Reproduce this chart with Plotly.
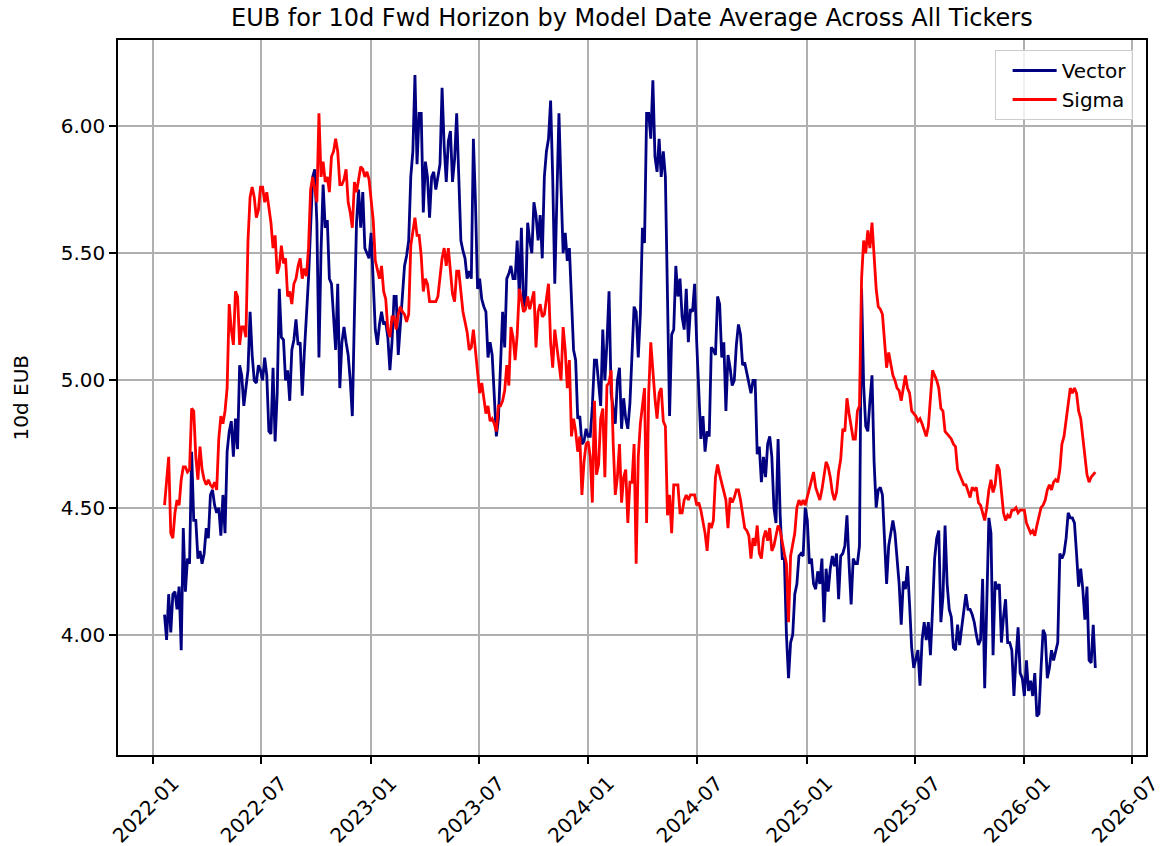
import pandas as pd
import plotly.graph_objects as go

# Half-weekly samples (every 3.5 days) starting 2022-01-20
start_date = "2022-01-20"
step = "84h"

vector = [
    4.08, 3.98, 4.16, 4.01, 4.16, 4.17, 4.10, 4.19, 3.94, 4.42,
    4.17, 4.30, 4.28, 4.72, 4.45, 4.45, 4.30, 4.33, 4.28, 4.32,
    4.42, 4.38, 4.55, 4.57, 4.51, 4.48, 4.50, 4.39, 4.55, 4.40,
    4.72, 4.80, 4.84, 4.70, 4.85, 4.73, 5.06, 5.02, 4.90, 4.97,
    5.04, 5.27, 5.10, 5.00, 4.99, 5.06, 5.04, 5.00, 5.09, 5.02,
    4.80, 4.79, 5.05, 4.76, 4.95, 5.36, 5.17, 5.16, 5.00, 5.04,
    4.92, 5.12, 5.16, 5.24, 5.14, 5.15, 4.94, 5.11, 5.25, 5.40,
    5.60, 5.80, 5.83, 5.62, 5.09, 5.51, 5.77, 5.60, 5.63, 5.40,
    5.38, 5.25, 5.12, 5.38, 4.97, 5.15, 5.21, 5.15, 5.10, 5.00,
    4.86, 5.26, 5.62, 5.75, 5.60, 5.74, 5.52, 5.50, 5.48, 5.58,
    5.38, 5.20, 5.14, 5.22, 5.27, 5.22, 5.23, 5.17, 5.04, 5.15,
    5.33, 5.33, 5.10, 5.22, 5.34, 5.45, 5.49, 5.55, 5.80, 5.90,
    6.20, 5.85, 6.05, 6.05, 5.66, 5.86, 5.80, 5.64, 5.80, 5.82,
    5.75, 5.80, 5.85, 6.15, 5.92, 5.78, 5.94, 5.98, 5.78, 5.87,
    6.05, 5.80, 5.55, 5.51, 5.48, 5.40, 5.43, 5.40, 5.95, 5.70,
    5.36, 5.40, 5.32, 5.29, 5.27, 5.09, 5.15, 5.10, 4.95, 4.78,
    4.85, 5.04, 5.27, 5.13, 5.40, 5.42, 5.45, 5.40, 5.40, 5.55,
    5.33, 5.60, 5.29, 5.30, 5.62, 5.55, 5.50, 5.70, 5.65, 5.55,
    5.65, 5.48, 5.80, 5.90, 5.95, 6.10, 5.80, 5.38, 5.68, 6.05,
    5.76, 5.50, 5.58, 5.47, 5.52, 5.29, 5.12, 5.08, 4.85, 4.86,
    4.75, 4.76, 4.81, 4.78, 4.78, 4.90, 5.08, 5.08, 5.00, 4.90,
    5.20, 5.00, 5.15, 5.35, 4.95, 4.88, 4.83, 5.00, 5.05, 4.81,
    4.93, 4.85, 4.81, 4.91, 5.10, 5.29, 5.27, 5.09, 5.26, 5.60,
    5.54, 6.05, 6.05, 5.95, 6.18, 5.88, 5.82, 5.95, 5.80, 5.90,
    5.80, 5.33, 4.86, 5.18, 5.20, 5.45, 5.33, 5.40, 5.25, 5.20,
    5.36, 5.15, 5.28, 5.27, 5.38, 5.15, 4.95, 4.77, 4.86, 4.72,
    4.80, 4.78, 5.13, 5.12, 5.10, 5.33, 5.30, 5.09, 5.15, 4.88,
    5.10, 5.05, 4.98, 5.00, 5.14, 5.22, 5.18, 5.06, 5.07, 5.03,
    5.00, 4.95, 5.00, 5.00, 4.71, 4.74, 4.60, 4.70, 4.62, 4.75,
    4.78, 4.70, 4.50, 4.44, 4.77, 4.47, 4.30, 4.30, 4.00, 3.83,
    3.97, 4.00, 4.16, 4.20, 4.31, 4.32, 4.31, 4.50, 4.45, 4.28,
    4.30, 4.20, 4.18, 4.25, 4.20, 4.30, 4.05, 4.26, 4.17, 4.26,
    4.31, 4.27, 4.32, 4.14, 4.31, 4.32, 4.35, 4.47, 4.28, 4.12,
    4.30, 4.28, 4.28, 4.35, 5.36, 4.98, 4.82, 4.80, 4.92, 5.02,
    4.68, 4.50, 4.57, 4.58, 4.55, 4.35, 4.20, 4.35, 4.40, 4.45,
    4.40, 4.30, 4.20, 4.04, 4.21, 4.18, 4.27, 4.12, 3.95, 3.87,
    3.90, 3.94, 3.80, 3.98, 4.05, 3.98, 4.05, 3.92, 4.10, 4.30,
    4.38, 4.41, 4.05, 4.15, 4.43, 4.20, 4.10, 4.07, 3.95, 3.94,
    4.04, 3.96, 4.03, 4.09, 4.16, 4.10, 4.10, 4.08, 4.05, 4.00,
    3.96, 3.98, 4.22, 3.79, 4.15, 4.46, 4.40, 3.92, 4.21, 4.18,
    4.20, 3.97, 4.07, 4.14, 3.97, 3.97, 3.94, 3.76, 3.91, 4.03,
    3.85, 3.83, 3.76, 3.90, 3.78, 3.82, 3.76, 3.85, 3.68, 3.69,
    3.87, 4.02, 4.00, 3.83, 3.87, 3.94, 3.90, 3.94, 3.97, 4.32,
    4.30, 4.32, 4.38, 4.48, 4.46, 4.46, 4.44, 4.32, 4.19, 4.26,
    4.18, 4.06, 4.19, 3.90, 3.89, 4.04, 3.87,
]

sigma = [
    4.51, 4.60, 4.70, 4.40, 4.38, 4.48, 4.53, 4.51, 4.61, 4.66,
    4.66, 4.64, 4.65, 4.89, 4.88, 4.70, 4.61, 4.74, 4.65, 4.61,
    4.59, 4.61, 4.59, 4.58, 4.60, 4.57, 4.77, 4.86, 4.83, 4.88,
    4.97, 5.30, 5.20, 5.14, 5.35, 5.33, 5.14, 5.21, 5.21, 5.17,
    5.55, 5.72, 5.76, 5.72, 5.64, 5.67, 5.76, 5.76, 5.70, 5.74,
    5.68, 5.62, 5.52, 5.57, 5.42, 5.45, 5.53, 5.46, 5.48, 5.33,
    5.35, 5.30, 5.38, 5.40, 5.45, 5.48, 5.40, 5.44, 5.41, 5.52,
    5.75, 5.80, 5.75, 5.70, 6.05, 5.80, 5.86, 5.78, 5.80, 5.74,
    5.88, 5.90, 5.95, 5.90, 5.77, 5.77, 5.79, 5.83, 5.70, 5.66,
    5.60, 5.78, 5.74, 5.79, 5.84, 5.83, 5.80, 5.82, 5.79, 5.71,
    5.63, 5.47, 5.44, 5.40, 5.45, 5.35, 5.32, 5.20, 5.17, 5.25,
    5.25, 5.20, 5.26, 5.29, 5.27, 5.26, 5.23, 5.26, 5.53, 5.58,
    5.64, 5.57, 5.57, 5.49, 5.35, 5.40, 5.38, 5.31, 5.31, 5.31,
    5.31, 5.33, 5.42, 5.48, 5.52, 5.45, 5.52, 5.44, 5.34, 5.31,
    5.43, 5.43, 5.34, 5.27, 5.23, 5.19, 5.12, 5.13, 5.20, 5.12,
    5.02, 4.95, 4.99, 4.92, 4.87, 4.90, 4.84, 4.85, 4.83, 4.80,
    4.90, 4.90, 4.92, 4.96, 5.06, 4.98, 5.21, 5.17, 5.08, 5.18,
    5.36, 5.32, 5.27, 5.28, 5.33, 5.28, 5.32, 5.35, 5.13, 5.27,
    5.30, 5.25, 5.26, 5.32, 5.38, 5.15, 5.05, 5.20, 5.13, 5.06,
    5.00, 5.21, 5.12, 4.97, 5.08, 4.78, 4.85, 4.80, 4.72, 4.78,
    4.55, 4.68, 4.75, 4.76, 4.70, 4.52, 4.92, 4.63, 4.67, 4.85,
    4.89, 4.62, 4.98, 4.99, 5.04, 4.75, 4.55, 4.62, 4.75, 4.52,
    4.62, 4.65, 4.44, 4.60, 4.60, 4.75, 4.28, 4.70, 4.83, 4.90,
    4.97, 4.44, 4.95, 5.15, 5.02, 4.93, 4.85, 4.95, 4.97, 4.84,
    4.82, 4.47, 4.55, 4.40, 4.59, 4.59, 4.59, 4.48, 4.48, 4.53,
    4.55, 4.53, 4.55, 4.55, 4.55, 4.51, 4.52, 4.49, 4.44, 4.40,
    4.33, 4.44, 4.42, 4.45, 4.62, 4.67, 4.63, 4.60, 4.56, 4.53,
    4.42, 4.54, 4.52, 4.54, 4.57, 4.57, 4.53, 4.47, 4.42, 4.41,
    4.39, 4.30, 4.38, 4.35, 4.43, 4.32, 4.30, 4.38, 4.41, 4.37,
    4.42, 4.33, 4.35, 4.39, 4.43, 4.41, 4.36, 4.32, 4.28, 4.05,
    4.31, 4.35, 4.40, 4.50, 4.53, 4.51, 4.53, 4.51, 4.54, 4.57,
    4.60, 4.64, 4.58, 4.55, 4.53, 4.57, 4.62, 4.68, 4.66, 4.62,
    4.56, 4.53, 4.56, 4.64, 4.69, 4.81, 4.80, 4.93, 4.87, 4.81,
    4.77, 4.77, 4.88, 4.90, 5.40, 5.55, 5.50, 5.59, 5.52, 5.62,
    5.50, 5.36, 5.29, 5.28, 5.26, 5.15, 5.05, 5.11, 5.06, 5.02,
    5.00, 4.97, 4.96, 4.92, 4.97, 5.02, 4.97, 4.95, 4.88, 4.87,
    4.86, 4.84, 4.85, 4.83, 4.80, 4.78, 4.82, 4.92, 5.04, 5.02,
    5.00, 4.97, 4.89, 4.88, 4.80, 4.79, 4.78, 4.77, 4.75, 4.74,
    4.65, 4.63, 4.61, 4.59, 4.59, 4.56, 4.54, 4.58, 4.57, 4.58,
    4.52, 4.51, 4.48, 4.45, 4.50, 4.57, 4.61, 4.56, 4.59, 4.67,
    4.65, 4.55, 4.48, 4.45, 4.47, 4.46, 4.49, 4.49, 4.50, 4.48,
    4.49, 4.49, 4.49, 4.44, 4.42, 4.40, 4.41, 4.39, 4.43, 4.46,
    4.50, 4.51, 4.53, 4.57, 4.59, 4.57, 4.60, 4.61, 4.60, 4.65,
    4.75, 4.78, 4.85, 4.90, 4.97, 4.95, 4.97, 4.95, 4.88, 4.85,
    4.78, 4.72, 4.63, 4.60, 4.62, 4.63, 4.64,
]

vector_dates = pd.date_range(start_date, periods=len(vector), freq=step)
sigma_dates = pd.date_range(start_date, periods=len(sigma), freq=step)

x_tick_labels = ["2022-01", "2022-07", "2023-01", "2023-07", "2024-01",
                 "2024-07", "2025-01", "2025-07", "2026-01", "2026-07"]
y_ticks = [4.0, 4.5, 5.0, 5.5, 6.0]

FONT = "DejaVu Sans"

fig = go.Figure()
fig.add_trace(go.Scatter(x=vector_dates, y=vector, mode="lines", name="Vector",
                         line=dict(color="#000080", width=2.8)))
fig.add_trace(go.Scatter(x=sigma_dates, y=sigma, mode="lines", name="Sigma",
                         line=dict(color="#ff0000", width=2.8)))

fig.update_layout(
    width=1168, height=846,
    margin=dict(l=118, r=22, t=40, b=91),
    paper_bgcolor="white", plot_bgcolor="white",
    font=dict(family=FONT, size=20, color="black"),
    showlegend=True,
    legend=dict(x=0.987, y=0.986, xanchor="right", yanchor="top",
                bgcolor="rgba(255,255,255,0.8)", bordercolor="#cccccc", borderwidth=1,
                font=dict(family=FONT, size=20), itemwidth=44, indentation=12),
    annotations=[
        dict(text="EUB for 10d Fwd Horizon by Model Date Average Across All Tickers",
             xref="paper", yref="paper", x=0.5, y=1, yshift=22,
             xanchor="center", yanchor="middle", showarrow=False,
             font=dict(family=FONT, size=24, color="black")),
        dict(text="10d EUB", xref="paper", yref="paper", x=0, y=0.5, xshift=-98,
             xanchor="center", yanchor="middle", textangle=-90, showarrow=False,
             font=dict(family=FONT, size=20, color="black")),
    ],
)

fig.update_xaxes(
    range=["2021-11-03", "2026-07-24"],
    tickvals=[pd.Timestamp(t + "-01") for t in x_tick_labels],
    ticktext=x_tick_labels,
    tickangle=-45, ticklabelshift=20,
    ticks="outside", ticklen=7, tickwidth=1.5, tickcolor="black",
    showgrid=True, gridcolor="#b0b0b0", gridwidth=1.5,
    showline=True, linecolor="black", linewidth=1.5, mirror=True,
    zeroline=False, automargin=False, tickfont=dict(family=FONT, size=20),
)
fig.update_yaxes(
    range=[3.528, 6.338],
    tickvals=y_ticks,
    tickformat=".2f", ticksuffix="%",
    ticks="outside", ticklen=7, tickwidth=1.5, tickcolor="black",
    showgrid=True, gridcolor="#b0b0b0", gridwidth=1.5,
    showline=True, linecolor="black", linewidth=1.5, mirror=True,
    zeroline=False, automargin=False, tickfont=dict(family=FONT, size=20),
)

fig.write_html("out.html", config={"displayModeBar": False},
               post_script="document.body.style.margin='0';")
